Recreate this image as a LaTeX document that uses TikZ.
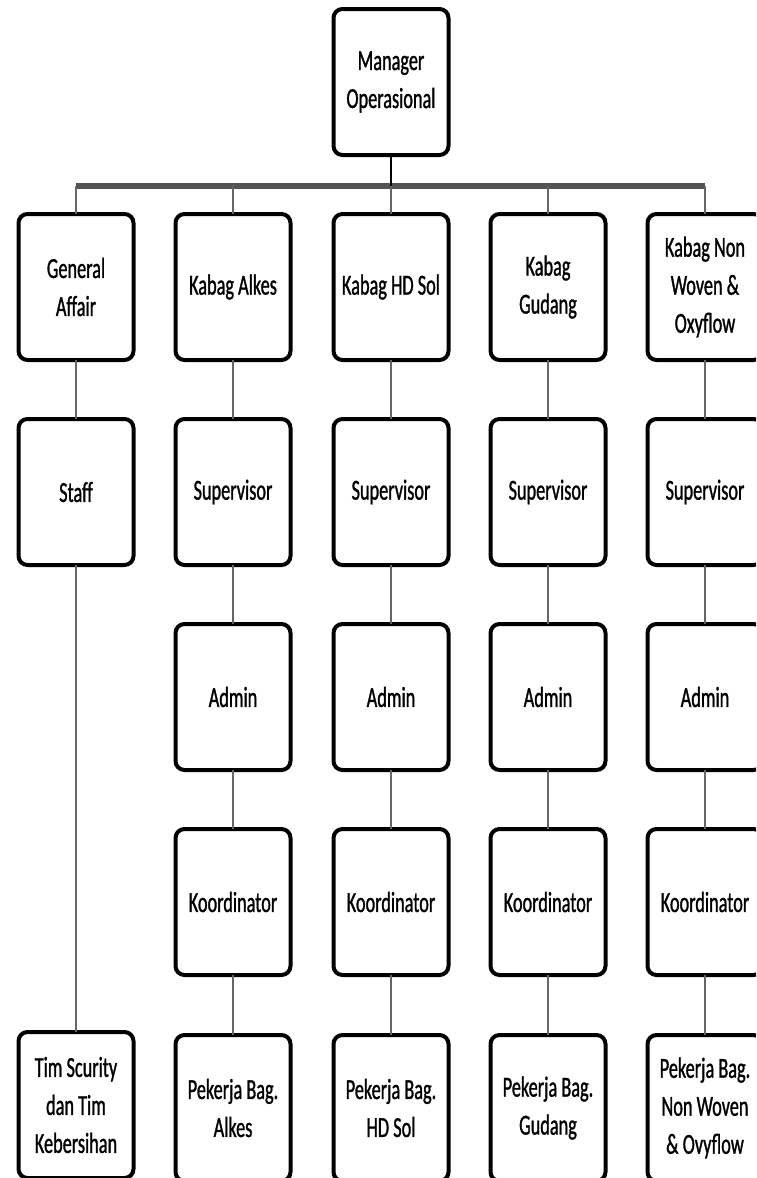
\documentclass[tikz,border=0pt]{standalone}
\usepackage{fontspec}
\newfontfamily\orgfont[FakeStretch=0.63,FakeBold=1]{Carlito}
\definecolor{OrgInk}{gray}{0.0}
\definecolor{OrgLink}{gray}{0.40}
\definecolor{OrgBus}{gray}{0.33}
\tikzset{
    org/chart/.style={
        x=0.5pt, y=-0.5pt,
        line cap=butt,
        line join=round,
        every node/.style={inner sep=0pt, outer sep=0pt}
    },
    org/box/.style={
        draw=OrgInk, fill=white, line width=2pt,
        rounded corners=4.5pt,
        minimum width=57.5pt, minimum height=73pt,
        align=center, text=OrgInk,
        font=\orgfont\fontsize{14.5}{19}\selectfont
    },
    org/link/.style={draw=OrgLink, line width=1pt},
    org/head/.style={draw=OrgInk, line width=1.3pt},
    org/bus/.style={draw=OrgBus, line width=3pt}
}
\begin{document}
\begin{tikzpicture}[org/chart]
    \useasboundingbox (0,0) rectangle (756,1178);
    \clip (0,0) rectangle (756,1178);
    % puncak
    \node[org/box] (mgr) at (391,82) {Manager\\Operasional};
    \coordinate (busL) at (76,186);
    \coordinate (busR) at (705,186);
    \draw[org/bus] (busL) -- (busR);
    \draw[org/head] (mgr.south) -- (mgr.south |- busL);
    % kolom general affair
    \node[org/box] (ga) at (76,287) {General\\Affair};
    \node[org/box] (staff) at (76,492) {Staff};
    \node[org/box] (tim) at (76,1105) {Tim Scurity\\dan Tim\\Kebersihan};
    \draw[org/link] (ga.north |- busL) -- (ga.north);
    \draw[org/link] (ga) -- (staff);
    \draw[org/link] (staff) -- (tim);
    % kolom bagian
    \foreach \col/\x/\kepala/\pekerja in {
        alkes/233/{Kabag Alkes}/{Pekerja Bag.\\Alkes},
        hdsol/391/{Kabag HD Sol}/{Pekerja Bag.\\HD Sol},
        gudang/548/{Kabag\\Gudang}/{Pekerja Bag.\\Gudang},
        nonwoven/705/{Kabag Non\\Woven \&\\Oxyflow}/{Pekerja Bag.\\Non Woven\\\& Ovyflow}} {
        \node[org/box] (\col-kabag) at (\x,287) {\kepala};
        \node[org/box] (\col-spv) at (\x,492) {Supervisor};
        \node[org/box] (\col-adm) at (\x,697) {Admin};
        \node[org/box] (\col-koor) at (\x,902) {Koordinator};
        \node[org/box] (\col-pkj) at (\x,1108) {\pekerja};
        \draw[org/link] (\col-kabag.north |- busL) -- (\col-kabag.north);
        \draw[org/link] (\col-kabag) -- (\col-spv);
        \draw[org/link] (\col-spv) -- (\col-adm);
        \draw[org/link] (\col-adm) -- (\col-koor);
        \draw[org/link] (\col-koor) -- (\col-pkj);
    }
\end{tikzpicture}
\end{document}
